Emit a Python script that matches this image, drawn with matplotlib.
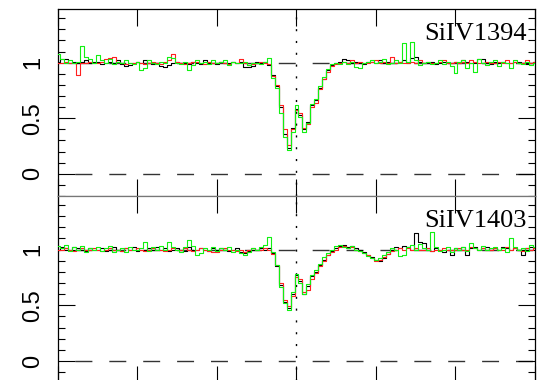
import numpy as np
import matplotlib
matplotlib.use("Agg")
import matplotlib.pyplot as plt
from matplotlib.ticker import MultipleLocator

# velocity grid (km/s), 5 km/s pixels
v_start, v_stop, v_step = -300, 300, 5
vel = np.arange(v_start, v_stop + v_step, v_step)

lines = ["SiIV1394", "SiIV1403"]

# --- SiIV 1394 ---
top_black = [1.01, 1.03, 1.03, 1.00, 1.01, 1.00, 1.01, 1.02, 1.00, 1.01,
             1.01, 0.99, 1.00, 1.01, 1.00, 1.02, 0.99, 0.97, 0.98, 1.00,
             1.01, 1.00, 1.02, 1.00, 0.99, 1.00, 0.97, 0.96, 0.98, 1.00,
             1.01, 1.00, 1.00, 0.99, 1.01, 1.00, 0.99, 1.02, 1.00, 1.00,
             0.99, 1.01, 1.00, 1.00, 1.01, 1.00, 1.01, 0.96, 0.96, 0.97,
             1.01, 1.00, 1.01, 0.98, 0.89, 0.79, 0.60, 0.36, 0.23, 0.41,
             0.58, 0.53, 0.40, 0.47, 0.62, 0.66, 0.77, 0.85, 0.93, 0.98,
             1.00, 1.01, 1.03, 1.02, 1.00, 1.01, 1.00, 0.99, 1.01, 1.01,
             1.00, 1.02, 1.00, 1.01, 1.00, 1.00, 1.01, 1.02, 1.00, 1.04,
             1.05, 1.01, 1.00, 1.00, 1.01, 0.99, 1.00, 1.01, 1.00, 1.00,
             1.01, 1.00, 1.02, 1.01, 1.00, 1.00, 1.03, 1.03, 1.00, 0.99,
             1.01, 1.00, 1.01, 1.00, 1.00, 1.01, 1.01, 1.00, 0.99, 1.00, 1.01]
top_red = [1.00, 1.00, 1.01, 1.00, 1.00, 0.89, 1.00, 1.00, 1.01, 1.00,
           1.00, 1.01, 1.03, 1.04, 1.05, 1.01, 1.00, 0.99, 1.00, 1.00,
           1.01, 1.00, 0.99, 1.00, 1.01, 1.00, 0.99, 1.01, 1.02, 1.08,
           1.01, 1.00, 0.99, 1.00, 1.01, 1.01, 1.00, 0.99, 1.01, 1.00,
           1.00, 1.01, 1.00, 0.99, 1.01, 1.00, 1.03, 1.00, 0.98, 0.99,
           1.00, 1.01, 1.00, 0.99, 0.88, 0.80, 0.62, 0.40, 0.26, 0.40,
           0.57, 0.55, 0.41, 0.45, 0.60, 0.64, 0.76, 0.85, 0.92, 0.97,
           0.99, 1.00, 1.01, 1.00, 1.02, 1.00, 1.01, 1.00, 1.00, 1.01,
           1.02, 1.00, 1.01, 1.00, 1.05, 1.00, 1.01, 1.00, 1.00, 1.01,
           1.00, 1.02, 1.00, 1.01, 1.00, 1.00, 1.01, 1.02, 1.00, 1.00,
           1.01, 1.00, 1.01, 1.00, 1.02, 1.01, 1.00, 1.00, 1.01, 1.00,
           1.00, 1.01, 1.00, 1.02, 1.00, 1.01, 1.00, 1.00, 1.02, 1.00, 1.01]
top_green = [1.08, 1.03, 1.00, 1.02, 1.00, 1.01, 1.15, 1.05, 1.03, 1.00,
             1.07, 1.02, 1.00, 1.03, 0.99, 1.01, 1.00, 1.02, 1.00, 0.99,
             1.01, 0.93, 0.95, 1.02, 1.00, 0.99, 1.01, 1.00, 1.05, 1.04,
             1.00, 0.99, 1.01, 0.93, 0.98, 1.02, 1.00, 1.01, 0.99, 1.02,
             1.00, 1.01, 1.02, 0.98, 1.01, 1.00, 1.00, 1.01, 0.98, 1.00,
             1.00, 0.99, 1.01, 1.04, 0.86, 0.77, 0.55, 0.33, 0.21, 0.38,
             0.62, 0.51, 0.38, 0.46, 0.63, 0.67, 0.79, 0.87, 0.94, 0.99,
             1.00, 0.99, 1.01, 0.99, 1.01, 0.96, 0.95, 1.00, 1.01, 1.02,
             1.00, 1.01, 1.03, 0.99, 1.00, 1.02, 1.00, 1.18, 1.01, 1.19,
             1.02, 0.98, 1.00, 1.01, 0.99, 1.00, 1.02, 0.99, 1.01, 0.97,
             0.91, 1.01, 1.02, 0.95, 1.00, 0.92, 1.03, 1.00, 0.98, 1.01,
             1.02, 0.97, 1.01, 1.00, 0.95, 1.02, 1.00, 0.99, 1.01, 0.98, 1.00]

# --- SiIV 1403 ---
bot_black = [1.00, 1.02, 1.01, 1.00, 1.02, 1.01, 1.00, 0.99, 1.01, 1.00,
             1.00, 1.01, 0.99, 1.00, 1.02, 1.00, 0.99, 1.01, 1.00, 1.02,
             0.99, 1.00, 1.00, 1.01, 1.00, 1.02, 1.00, 1.01, 0.99, 1.00,
             1.01, 1.00, 0.99, 1.02, 1.00, 1.00, 1.01, 1.00, 0.99, 1.01,
             1.00, 1.01, 1.00, 0.99, 1.00, 1.01, 0.98, 0.97, 0.99, 1.00,
             1.00, 1.01, 1.00, 1.01, 0.97, 0.85, 0.68, 0.53, 0.48, 0.60,
             0.77, 0.72, 0.60, 0.67, 0.76, 0.80, 0.86, 0.91, 0.95, 0.99,
             1.01, 1.03, 1.04, 1.02, 1.03, 1.01, 1.00, 0.98, 0.95, 0.93,
             0.91, 0.90, 0.92, 0.96, 1.00, 1.02, 1.01, 1.03, 1.02, 1.00,
             1.15, 1.07, 1.06, 1.00, 0.99, 1.01, 1.00, 0.98, 1.00, 0.95,
             1.01, 1.00, 1.02, 0.95, 1.01, 1.02, 1.00, 1.01, 1.02, 1.00,
             1.01, 1.00, 1.02, 1.01, 1.00, 1.01, 1.00, 0.95, 1.01, 1.02, 1.01]
bot_red = [1.00, 1.00, 1.01, 1.00, 0.99, 1.00, 1.01, 1.00, 1.00, 1.01,
           1.00, 0.99, 1.00, 1.01, 1.00, 1.00, 0.99, 1.01, 1.00, 1.00,
           1.01, 1.00, 0.99, 1.00, 1.01, 1.00, 1.00, 0.99, 1.00, 1.01,
           1.00, 1.00, 1.01, 1.00, 0.99, 1.00, 1.01, 1.00, 0.99, 0.98,
           0.98, 1.00, 1.01, 1.00, 1.00, 0.99, 1.00, 0.98, 1.00, 1.01,
           1.00, 1.00, 1.01, 1.00, 0.96, 0.86, 0.70, 0.55, 0.49, 0.58,
           0.75, 0.74, 0.62, 0.64, 0.74, 0.79, 0.85, 0.90, 0.95, 0.98,
           1.00, 1.02, 1.03, 1.01, 1.02, 1.00, 0.99, 0.97, 0.95, 0.92,
           0.90, 0.91, 0.93, 0.96, 0.99, 1.00, 1.01, 1.00, 1.01, 1.00,
           1.01, 1.00, 1.00, 1.01, 0.99, 1.00, 1.00, 1.01, 1.00, 1.00,
           1.00, 1.01, 1.00, 1.00, 1.02, 1.01, 1.00, 1.01, 1.00, 1.00,
           1.01, 1.00, 1.00, 1.02, 1.00, 1.01, 1.00, 0.99, 1.01, 1.00, 1.01]
bot_green = [1.03, 1.01, 1.04, 0.99, 1.02, 1.00, 1.03, 0.98, 1.01, 1.00,
             1.02, 0.99, 1.01, 1.03, 0.98, 1.00, 1.01, 0.98, 1.02, 1.00,
             1.00, 1.01, 1.07, 0.99, 1.02, 1.00, 1.03, 1.00, 1.07, 1.02,
             1.00, 0.98, 1.02, 1.09, 1.03, 0.95, 0.97, 1.01, 1.00, 1.02,
             0.99, 1.01, 1.00, 1.02, 0.98, 1.00, 0.97, 0.95, 0.98, 1.01,
             1.00, 1.02, 1.04, 1.11, 0.98, 0.86, 0.66, 0.52, 0.46, 0.62,
             0.78, 0.70, 0.60, 0.69, 0.77, 0.82, 0.87, 0.93, 0.97, 1.00,
             1.03, 1.04, 1.02, 1.01, 1.03, 1.00, 0.99, 0.97, 0.94, 0.92,
             0.91, 0.92, 0.95, 0.98, 1.01, 1.00, 0.94, 0.95, 1.02, 1.04,
             1.00, 1.05, 1.01, 1.00, 1.16, 1.02, 0.99, 1.00, 1.02, 0.98,
             1.01, 1.00, 1.02, 0.99, 1.06, 1.01, 1.00, 1.03, 1.00, 1.01,
             1.02, 1.00, 1.01, 0.98, 1.10, 1.02, 1.00, 1.01, 0.99, 1.04, 1.02]

panels = [(top_black, top_red, top_green), (bot_black, bot_red, bot_green)]

fig = plt.figure(figsize=(5.38, 3.80), dpi=100)
ax1 = fig.add_axes([0.1078, 0.4842, 0.8866, 0.4913])
ax2 = fig.add_axes([0.1078, -0.0089, 0.8866, 0.4931])

for ax, name, (fb, fr, fg) in zip([ax1, ax2], lines, panels):
    ax.axhline(0, color='#333333', lw=1, ls=(12.2, (12.2, 12.2)), zorder=1)
    ax.axhline(1, color='#333333', lw=1, ls=(12.2, (12.2, 12.2)), zorder=1)
    ax.axvline(0, color='k', lw=1, ls=(0, (1.5, 7)), zorder=1)

    ax.step(vel, fb, where='mid', color='k', lw=0.8, zorder=2)
    ax.step(vel, fr, where='mid', color='#ff2020', lw=0.8, zorder=3)
    ax.step(vel, fg, where='mid', color='#11f011', lw=0.8, zorder=4)

    ax.text(290, 1.2, name, ha='right', va='baseline', fontsize=19,
            family='Liberation Serif')

    ax.set_xlim(-300, 300)
    ax.set_ylim(-0.2, 1.48)
    ax.xaxis.set_major_locator(MultipleLocator(100))
    ax.yaxis.set_minor_locator(MultipleLocator(0.1))
    ax.set_yticks([0, 0.5, 1])
    ax.set_yticklabels(['0', '0.5', '1'], rotation=90, va='center',
                       fontsize=17, family='Liberation Sans')
    ax.tick_params(which='both', direction='in', top=True, right=True,
                   labelbottom=False)
    ax.tick_params(which='major', length=12, width=0.8)
    ax.tick_params(which='minor', length=5, width=0.8)
    ax.tick_params(axis='y', pad=10)
    for s in ax.spines.values():
        s.set_linewidth(0.9)

# shared edge between the panels is drawn grey in the original
ax1.spines['bottom'].set_color('#777777')
ax2.spines['top'].set_color('#777777')

fig.savefig('out.png', dpi=100)
